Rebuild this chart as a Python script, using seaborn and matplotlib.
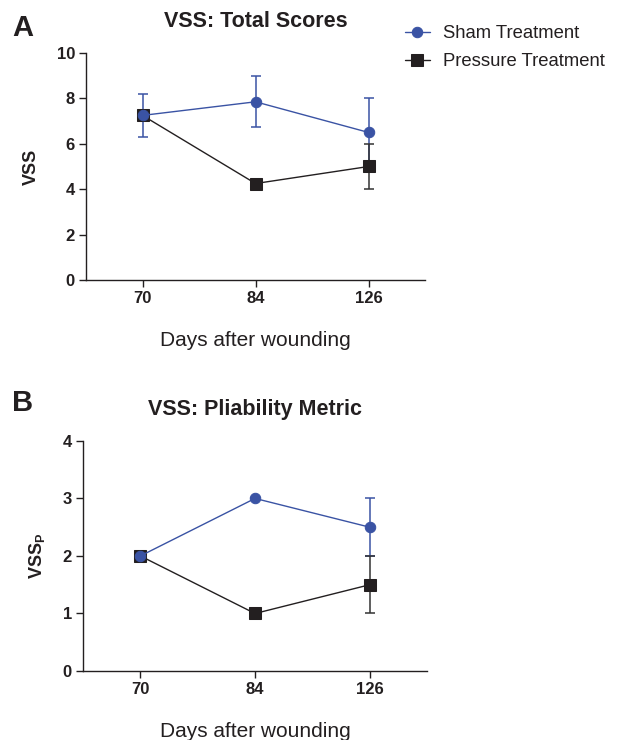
import numpy as np
import pandas as pd
import matplotlib
matplotlib.use("Agg")
import matplotlib.pyplot as plt
import seaborn as sns

# ---- data ----
days = ["70", "84", "126"]

# panel A: VSS total scores (mean, lower, upper)
sham_total = [7.25, 7.85, 6.5]
sham_total_lo = [6.3, 6.75, 5.0]
sham_total_hi = [8.2, 9.0, 8.0]
press_total = [7.25, 4.25, 5.0]
press_total_lo = [7.15, 4.1, 4.0]
press_total_hi = [7.35, 4.4, 6.0]

# panel B: pliability metric
sham_pliab = [2.0, 3.0, 2.5]
sham_pliab_lo = [2.0, 3.0, 2.0]
sham_pliab_hi = [2.0, 3.0, 3.0]
press_pliab = [2.0, 1.0, 1.5]
press_pliab_lo = [2.0, 1.0, 1.0]
press_pliab_hi = [2.0, 1.0, 2.0]

BLUE = "#3a53a4"
BLACK = "#231f20"

sns.set_theme(style="ticks")
plt.rcParams["font.family"] = ["Liberation Sans", "DejaVu Sans"]
plt.rcParams["mathtext.default"] = "regular"

fig = plt.figure(figsize=(6.21, 7.40), dpi=100)
axA = fig.add_axes([0.1385, 0.6216, 0.546, 0.3068])
axB = fig.add_axes([0.1337, 0.0932, 0.554, 0.311])


def draw_panel(ax, sham, s_lo, s_hi, press, p_lo, p_hi):
    sham = np.array(sham); press = np.array(press)
    df = pd.DataFrame({"day": days * 2,
                       "value": np.concatenate([sham, press]),
                       "group": ["Sham Treatment"] * 3 + ["Pressure Treatment"] * 3})
    # error bars first, then the lines on top
    ax.errorbar(days, sham, yerr=[sham - np.array(s_lo), np.array(s_hi) - sham],
                fmt="none", ecolor=BLUE, elinewidth=1.1, capsize=3.5, capthick=1.1, zorder=1)
    ax.errorbar(days, press, yerr=[press - np.array(p_lo), np.array(p_hi) - press],
                fmt="none", ecolor="#333333", elinewidth=1.1, capsize=3.5, capthick=1.1, zorder=2)
    sns.lineplot(data=df[df.group == "Pressure Treatment"], x="day", y="value",
                 sort=False, estimator=None, color=BLACK, marker="s", markersize=8,
                 markeredgecolor=BLACK, linewidth=1.0, label="Pressure Treatment",
                 ax=ax, zorder=3)
    sns.lineplot(data=df[df.group == "Sham Treatment"], x="day", y="value",
                 sort=False, estimator=None, color=BLUE, marker="o", markersize=7.5,
                 markeredgecolor=BLUE, linewidth=1.0, label="Sham Treatment",
                 ax=ax, zorder=4)
    ax.set_xlim(-0.5, 2.5)
    sns.despine(ax=ax)
    for s in ["left", "bottom"]:
        ax.spines[s].set_linewidth(1.0)
        ax.spines[s].set_color(BLACK)
    ax.tick_params(axis="both", length=5, width=1.0, color=BLACK, labelsize=12,
                   labelcolor=BLACK, pad=3)
    for lab in ax.get_xticklabels() + ax.get_yticklabels():
        lab.set_fontweight("bold")
    ax.set_xlabel("Days after wounding", fontsize=15, labelpad=18, color=BLACK)
    ax.get_legend().remove()


draw_panel(axA, sham_total, sham_total_lo, sham_total_hi,
           press_total, press_total_lo, press_total_hi)
axA.set_ylim(0, 10)
axA.set_yticks([0, 2, 4, 6, 8, 10])
for lab in axA.get_yticklabels():
    lab.set_fontweight("bold")
axA.set_ylabel("VSS", fontsize=13, fontweight="bold", labelpad=12, color=BLACK)
axA.set_title("VSS: Total Scores", fontsize=15.5, fontweight="bold", pad=19, color=BLACK)

draw_panel(axB, sham_pliab, sham_pliab_lo, sham_pliab_hi,
           press_pliab, press_pliab_lo, press_pliab_hi)
axB.set_ylim(0, 4)
axB.set_yticks([0, 1, 2, 3, 4])
for lab in axB.get_yticklabels():
    lab.set_fontweight("bold")
axB.set_ylabel(r"VSS$_\mathregular{P}$", fontsize=13, fontweight="bold", labelpad=11, color=BLACK)
axB.set_title("VSS: Pliability Metric", fontsize=15.5, fontweight="bold", pad=19, color=BLACK)

fig.text(12 / 621, 1 - 14 / 740, "A", fontsize=21, fontweight="bold", va="top", color=BLACK)
fig.text(12 / 621, 1 - 389 / 740, "B", fontsize=21, fontweight="bold", va="top", color=BLACK)

h, l = axA.get_legend_handles_labels()
order = [l.index("Sham Treatment"), l.index("Pressure Treatment")]
fig.legend([h[i] for i in order], [l[i] for i in order], loc="upper left",
           bbox_to_anchor=(405 / 621, 1 - 25 / 740), frameon=False, fontsize=13.3,
           borderpad=0, borderaxespad=0, handlelength=1.35, handletextpad=0.7,
           labelspacing=0.6, labelcolor=BLACK)

fig.savefig("out.png", dpi=100)
